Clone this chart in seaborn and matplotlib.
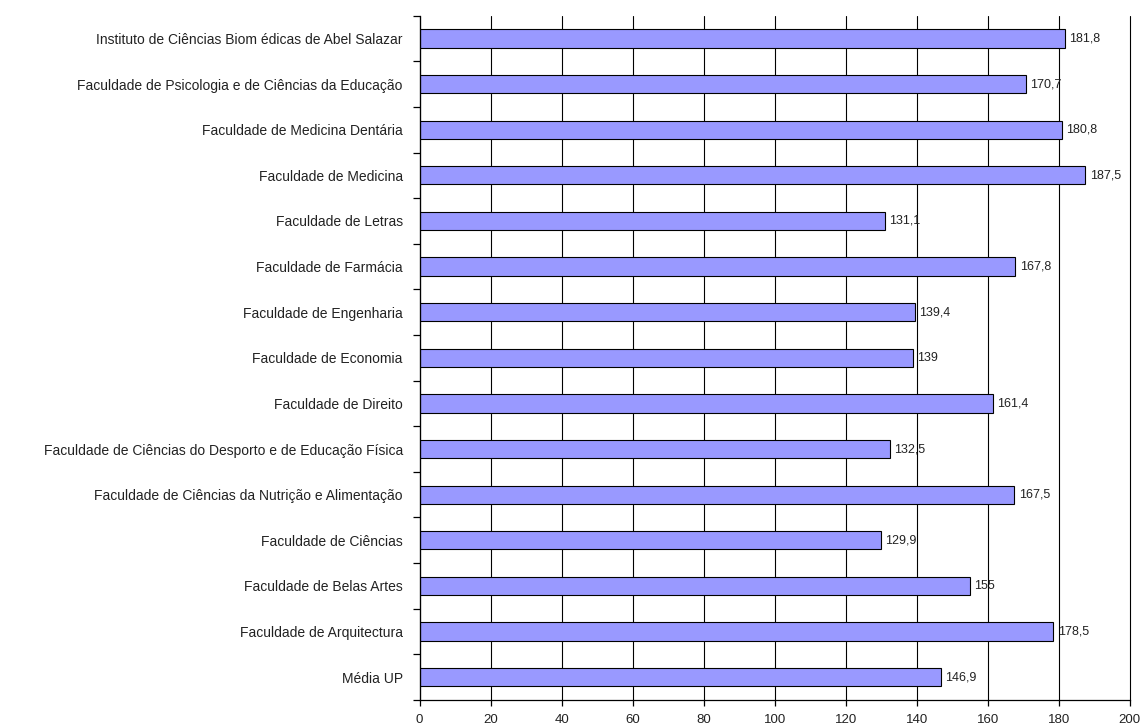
import numpy as np
import pandas as pd
import matplotlib.pyplot as plt
import seaborn as sns

# Data (top to bottom)
faculdades = [
    "Instituto de Ciências Biom édicas de Abel Salazar",
    "Faculdade de Psicologia e de Ciências da Educação",
    "Faculdade de Medicina Dentária",
    "Faculdade de Medicina",
    "Faculdade de Letras",
    "Faculdade de Farmácia",
    "Faculdade de Engenharia",
    "Faculdade de Economia",
    "Faculdade de Direito",
    "Faculdade de Ciências do Desporto e de Educação Física",
    "Faculdade de Ciências da Nutrição e Alimentação",
    "Faculdade de Ciências",
    "Faculdade de Belas Artes",
    "Faculdade de Arquitectura",
    "Média UP",
]
valores = [181.8, 170.7, 180.8, 187.5, 131.1, 167.8, 139.4, 139.0, 161.4,
           132.5, 167.5, 129.9, 155.0, 178.5, 146.9]
x_ticks = [0, 20, 40, 60, 80, 100, 120, 140, 160, 180, 200]

df = pd.DataFrame({"faculdade": faculdades, "valor": valores})

sns.set_style("white")
plt.rcParams["font.family"] = ["Liberation Sans", "DejaVu Sans"]

fig = plt.figure(figsize=(11.4, 7.28), dpi=100)
ax = fig.add_axes([0.368, 0.0385, 0.623, 0.94])

sns.barplot(data=df, x="valor", y="faculdade", orient="h", color="#9999FF",
            edgecolor="black", linewidth=0.8, width=0.4, saturation=1, ax=ax)

# value labels
for i, v in enumerate(valores):
    ax.text(v + 1.2, i, f"{v:g}".replace(".", ","), va="center", ha="left",
            fontsize=9, color="#222222")

ax.set_xlim(0, 200)
ax.set_ylim(len(faculdades) - 0.5, -0.5)
ax.set_xticks(x_ticks)
ax.set_xlabel("")
ax.set_ylabel("")

# gridlines
ax.set_axisbelow(True)
ax.xaxis.grid(True, color="black", linewidth=0.8)
for gl in ax.get_xgridlines():
    gl.set_clip_on(False)
ax.yaxis.grid(False)

# spines
for s in ["top", "right"]:
    ax.spines[s].set_visible(False)
for s in ["left", "bottom"]:
    ax.spines[s].set_color("black")
    ax.spines[s].set_linewidth(0.9)

# ticks between categories
ax.set_yticks(np.arange(len(faculdades) + 1) - 0.5, minor=True)
ax.tick_params(axis="y", which="major", length=0, labelsize=10, pad=12,
               labelcolor="#222222")
ax.tick_params(axis="y", which="minor", length=5, width=0.9, color="black",
               direction="out", left=True)
ax.tick_params(axis="x", which="major", length=4, width=0.9, color="black",
               direction="out", bottom=True, labelsize=9.5, pad=6,
               labelcolor="#222222")

fig.savefig("out.png", dpi=100)
